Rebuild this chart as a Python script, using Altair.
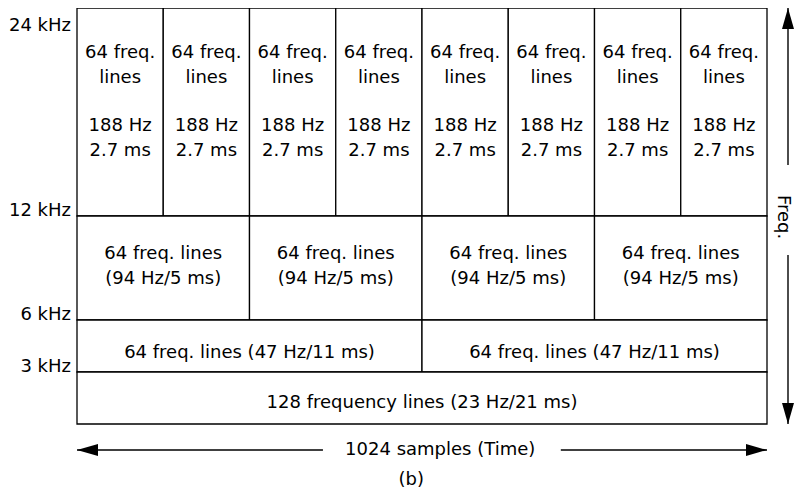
import altair as alt
import pandas as pd

# ---- data ----
TOTAL_SAMPLES = 1024
row_f_low = [12, 6, 3, 0]          # kHz
row_f_high = [24, 12, 6, 3]        # kHz
row_cells = [8, 4, 2, 1]           # blocks per row over 1024 samples
row_labels = [
    "64 freq.\nlines",
    "64 freq. lines\n(94 Hz/5 ms)",
    "64 freq. lines (47 Hz/11 ms)",
    "128 frequency lines (23 Hz/21 ms)",
]
row_sublabels = ["188 Hz\n2.7 ms", "", "", ""]
freq_ticks = [3, 6, 12, 24]        # kHz
freq_tick_labels = ["3 kHz", "6 kHz", "12 kHz", "24 kHz"]
time_label = "1024 samples (Time)"
freq_label = "Freq."
caption = "(b)"

# annotation anchors in data units
time_shaft_start = [0, 718]
time_shaft_end = [365, 1024]
time_label_at = 539
caption_at = 496
freq_shaft_low = [14.94, 0]
freq_shaft_high = [24, 9.75]
freq_label_at = 11.94

FONT = "DejaVu Sans"
FS = 18
W, H = 690, 416

cells = []
for k, (lo, hi, n, lab, sub) in enumerate(zip(row_f_low, row_f_high, row_cells,
                                              row_labels, row_sublabels)):
    w = TOTAL_SAMPLES / n
    for i in range(n):
        cells.append(dict(t0=i * w, t1=(i + 1) * w, f0=lo, f1=hi, label=lab, sub=sub, row=k))
df = pd.DataFrame(cells)

xs = alt.Scale(domain=[0, TOTAL_SAMPLES], nice=False, zero=False)
ys = alt.Scale(domain=[0, 24], nice=False, zero=False)

base = alt.Chart(df)
rects = base.mark_rect(fill="white", stroke="black", strokeWidth=1.3).encode(
    x=alt.X("t0:Q", scale=xs, axis=None), x2="t1",
    y=alt.Y("f0:Q", scale=ys, axis=None), y2="f1",
)


def cell_text(row, field, dy):
    return (
        base.transform_filter(alt.datum.row == row)
        .transform_calculate(tm="(datum.t0 + datum.t1) / 2", fm="(datum.f0 + datum.f1) / 2")
        .mark_text(font=FONT, fontSize=FS, lineHeight=24.5, lineBreak="\n",
                   baseline="middle", align="center", dy=dy, color="black")
        .encode(x=alt.X("tm:Q", scale=xs, axis=None), y=alt.Y("fm:Q", scale=ys, axis=None),
                text=f"{field}:N")
    )


row_dy = [-59, -14, 7, 5]
texts = [cell_text(k, "label", dy) for k, dy in enumerate(row_dy)]
texts.append(cell_text(0, "sub", 14))

# frequency tick labels (left)
tick_df = pd.DataFrame({"f": freq_ticks, "t": freq_tick_labels})
ylab_low = alt.Chart(tick_df).transform_filter(alt.datum.f < 24).mark_text(
    font=FONT, fontSize=FS, baseline="alphabetic", align="right", color="black").encode(
    y=alt.Y("f:Q", scale=ys, axis=None), x=alt.value(-6), text="t:N")
ylab_top = alt.Chart(tick_df).transform_filter(alt.datum.f == 24).mark_text(
    font=FONT, fontSize=FS, baseline="alphabetic", align="right", color="black", dy=23).encode(
    y=alt.Y("f:Q", scale=ys, axis=None), x=alt.value(-6), text="t:N")

# time arrow
TY = 442
tshaft = alt.Chart(pd.DataFrame({"a": time_shaft_start, "b": time_shaft_end})).mark_rule(
    color="black", strokeWidth=1.4).encode(
    x=alt.X("a:Q", scale=xs, axis=None), x2="b", y=alt.value(TY))

LEFT = "M0,0 L2,-0.57 L2,0.57 Z"
RIGHT = "M0,0 L-2,-0.57 L-2,0.57 Z"
UP = "M0,0 L-0.57,2 L0.57,2 Z"
DOWN = "M0,0 L-0.57,-2 L0.57,-2 Z"

theads = alt.Chart(pd.DataFrame({"x": [0, TOTAL_SAMPLES], "d": ["l", "r"]})).mark_point(
    filled=True, size=441, color="black", opacity=1, strokeWidth=0).encode(
    x=alt.X("x:Q", scale=xs, axis=None), y=alt.value(TY),
    shape=alt.Shape("d:N", scale=alt.Scale(domain=["l", "r"], range=[LEFT, RIGHT]), legend=None))

ttext = alt.Chart(pd.DataFrame({"x": [time_label_at], "t": [time_label]})).mark_text(
    font=FONT, fontSize=FS, baseline="middle", align="center", color="black").encode(
    x=alt.X("x:Q", scale=xs, axis=None), y=alt.value(TY), text="t:N")

cap = alt.Chart(pd.DataFrame({"x": [caption_at], "t": [caption]})).mark_text(
    font=FONT, fontSize=FS, baseline="middle", align="center", color="black").encode(
    x=alt.X("x:Q", scale=xs, axis=None), y=alt.value(472), text="t:N")

# frequency arrow
FX = 711
fshaft = alt.Chart(pd.DataFrame({"a": freq_shaft_low, "b": freq_shaft_high})).mark_rule(
    color="black", strokeWidth=1.4).encode(
    y=alt.Y("a:Q", scale=ys, axis=None), y2="b", x=alt.value(FX))

fheads = alt.Chart(pd.DataFrame({"y": [24, 0], "d": ["u", "dn"]})).mark_point(
    filled=True, size=441, color="black", opacity=1, strokeWidth=0).encode(
    y=alt.Y("y:Q", scale=ys, axis=None), x=alt.value(FX),
    shape=alt.Shape("d:N", scale=alt.Scale(domain=["u", "dn"], range=[UP, DOWN]), legend=None))

ftext = alt.Chart(pd.DataFrame({"y": [freq_label_at], "t": [freq_label]})).mark_text(
    font=FONT, fontSize=FS, baseline="middle", align="center", angle=90, color="black").encode(
    y=alt.Y("y:Q", scale=ys, axis=None), x=alt.value(FX - 5), text="t:N")

chart = alt.layer(rects, *texts, ylab_low, ylab_top, tshaft, theads, ttext, cap,
                  fshaft, fheads, ftext).properties(
    width=W, height=H,
    padding={"left": 69, "top": 0, "right": 27, "bottom": 64},
    autosize=alt.AutoSizeParams(type="none"),
    background="white",
).configure_view(stroke=None).resolve_scale(shape="independent")

chart.save("out.html", embed_options={"renderer": "svg", "actions": False})
